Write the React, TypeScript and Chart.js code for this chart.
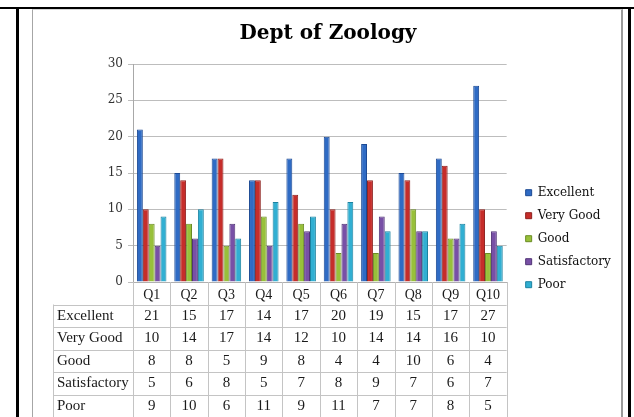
import React, { useEffect, useRef } from 'react';
import { Chart, registerables } from 'chart.js';

Chart.register(...registerables);

// ---- data ----
const categories = ['Q1', 'Q2', 'Q3', 'Q4', 'Q5', 'Q6', 'Q7', 'Q8', 'Q9', 'Q10'];
const seriesNames = ['Excellent', 'Very Good', 'Good', 'Satisfactory', 'Poor'];
const excellent = [21, 15, 17, 14, 17, 20, 19, 15, 17, 27];
const veryGood = [10, 14, 17, 14, 12, 10, 14, 14, 16, 10];
const good = [8, 8, 5, 9, 8, 4, 4, 10, 6, 4];
const satisfactory = [5, 6, 8, 5, 7, 8, 9, 7, 6, 7];
const poor = [9, 10, 6, 11, 9, 11, 7, 7, 8, 5];
const yTicks = [0, 5, 10, 15, 20, 25, 30];
const chartTitle = 'Dept of Zoology';

const seriesValues = [excellent, veryGood, good, satisfactory, poor];
const fillColors = ['#2f6bc4', '#c62d2a', '#98c03a', '#7850a6', '#31afd2'];
const edgeColors = ['#1c4a94', '#8e201e', '#6a8c24', '#513476', '#1c82a0'];

const HEADER_COL_WIDTH = 80;
const TABLE_LINE = '#c4c4c4';

const tablePlugin = {
  id: 'dataTable',
  afterLayout(chart: any) {
    // let the legend's clip box take in the whole of its widest label
    const lg = chart.legend;
    if (lg) {
      lg.right += 8;
      lg.width += 8;
    }
  },
  afterDraw(chart: any) {
    const ctx = chart.ctx as CanvasRenderingContext2D;
    const xs = chart.scales.x;
    const n = categories.length;
    const step = (xs.getPixelForTick(n - 1) - xs.getPixelForTick(0)) / (n - 1);
    const colLeft = xs.getPixelForTick(0) - step / 2;
    const colRight = xs.getPixelForTick(n - 1) + step / 2;
    const rows = seriesValues.length;
    const top = xs.top;
    const rowH = (xs.bottom - xs.top) / (rows + 1);
    const headLeft = colLeft - HEADER_COL_WIDTH;
    ctx.save();
    ctx.strokeStyle = TABLE_LINE;
    ctx.lineWidth = 1;
    ctx.beginPath();
    for (let r = 1; r <= rows + 1; r++) {
      const y = Math.round(top + r * rowH) + 0.5;
      ctx.moveTo(headLeft, y);
      ctx.lineTo(colRight, y);
    }
    for (let c = 0; c <= n; c++) {
      const x = Math.round(colLeft + c * step) + 0.5;
      ctx.moveTo(x, top);
      ctx.lineTo(x, xs.bottom);
    }
    const hx = Math.round(headLeft) + 0.5;
    ctx.moveTo(hx, top + rowH);
    ctx.lineTo(hx, xs.bottom);
    ctx.stroke();

    ctx.fillStyle = '#1a1a1a';
    ctx.font = '15px "Liberation Serif"';
    ctx.textBaseline = 'middle';
    seriesValues.forEach((vals, r) => {
      const cy = top + (r + 1.5) * rowH;
      ctx.textAlign = 'left';
      ctx.fillText(seriesNames[r], headLeft + 4, cy);
      ctx.textAlign = 'center';
      vals.forEach((v, i) => ctx.fillText(String(v), xs.getPixelForTick(i), cy));
    });
    ctx.restore();
  },
};

function ChartView() {
  const canvasRef = useRef<HTMLCanvasElement | null>(null);

  useEffect(() => {
    if (!canvasRef.current) return;
    Chart.defaults.font.family = 'DejaVu Serif';
    const chart = new Chart(canvasRef.current, {
      type: 'bar',
      data: {
        labels: categories,
        datasets: seriesNames.map((name, i) => ({
          label: name,
          data: seriesValues[i],
          backgroundColor: fillColors[i],
          borderColor: edgeColors[i],
          borderWidth: 1,
          barPercentage: 1,
          categoryPercentage: 0.79,
        })),
      },
      options: {
        animation: false,
        responsive: false,
        devicePixelRatio: 1,
        layout: { padding: { left: 48, right: 26, top: 10, bottom: 0 } },
        plugins: {
          title: {
            display: true,
            text: chartTitle,
            color: '#000',
            font: { family: 'DejaVu Serif', size: 20, weight: 'bold' },
            padding: { top: 12, bottom: 18 },
          },
          legend: {
            position: 'right',
            align: 'center',
            title: { display: true, text: '', font: { size: 12 }, padding: { top: 36, bottom: 0 } },
            labels: {
              boxWidth: 6,
              boxHeight: 6,
              padding: 11,
              color: '#111',
              font: { family: 'DejaVu Serif', size: 12 },
            },
          },
          tooltip: { enabled: false },
        },
        scales: {
          x: {
            grid: { display: false, drawTicks: false },
            border: { display: true, color: '#b0b0b0' },
            ticks: {
              font: { family: 'Liberation Serif', size: 14 },
              color: '#1a1a1a',
              padding: 5,
              maxRotation: 0,
              autoSkip: false,
            },
            afterFit: (s: any) => {
              s.height = 135;
            },
          },
          y: {
            min: 0,
            max: 30,
            afterBuildTicks: (s: any) => {
              s.ticks = yTicks.map((v) => ({ value: v }));
            },
            ticks: { padding: 5, font: { family: 'DejaVu Serif', size: 12 }, color: '#333' },
            grid: { color: '#bdbdbd', tickLength: 5 },
            border: { color: '#a8a8a8' },
            afterFit: (s: any) => {
              s.width = 85;
            },
          },
          gap: {
            type: 'linear',
            axis: 'y',
            position: 'right',
            display: true,
            grid: { display: false },
            ticks: { display: false },
            border: { display: false },
            afterFit: (s: any) => {
              s.width = 8;
            },
          },
        },
      } as any,
      plugins: [tablePlugin],
    });
    return () => chart.destroy();
  }, []);

  return (
    <canvas
      ref={canvasRef}
      width={634}
      height={417}
      style={{ position: 'absolute', left: 0, top: 0, width: 634, height: 417, zIndex: 2 }}
    />
  );
}

export default function App() {
  return (
    <div style={{ position: 'absolute', left: 0, top: 0, width: 634, height: 417, overflow: 'hidden', background: '#fff' }}>
      <div style={{ position: 'absolute', left: 0, top: 7, width: 634, height: 2, background: '#000' }} />
      <div style={{ position: 'absolute', left: 16, top: 7, width: 3, height: 410, background: '#000' }} />
      <div style={{ position: 'absolute', left: 628, top: 7, width: 3, height: 410, background: '#000' }} />
      <div
        style={{
          position: 'absolute',
          left: 32,
          top: 9,
          width: 588,
          height: 430,
          borderLeft: '1px solid #a6a6a6',
          borderRight: '2px solid #9a9a9a',
          borderTop: '1px solid #d6d6d6',
        }}
      />
      <ChartView />
    </div>
  );
}
